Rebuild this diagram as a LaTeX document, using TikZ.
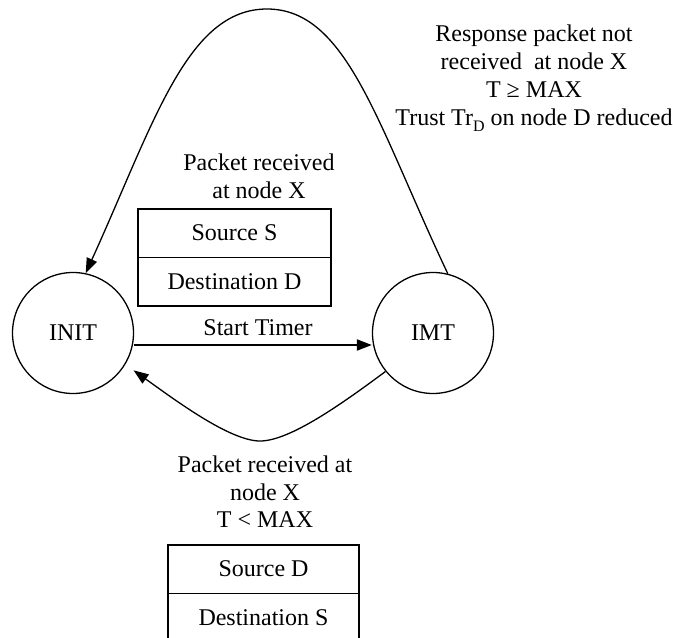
\documentclass[tikz,border=0pt]{standalone}
\usepackage{fontspec}
\setmainfont{Liberation Serif}
\usetikzlibrary{arrows.meta}
\begin{document}
\begin{tikzpicture}[x=1pt,y=-1pt,
  every node/.style={font=\fontsize{24}{27.6}\selectfont},
  state/.style={draw,circle,line width=1.3pt,minimum size=121pt,inner sep=0pt},
  field/.style={draw,line width=1.5pt,minimum width=193pt,minimum height=48.5pt,inner sep=0pt},
  lbl/.style={align=center,inner sep=0pt},
  tip/.style={-{Triangle[length=15pt,width=11pt]}},
  arc/.style={line width=1.3pt}]
\useasboundingbox (0,0) rectangle (673,638);
\clip (0,0) rectangle (673,638);
\node[state] (INIT) at (73,333) {INIT};
\node[state] (IMT) at (433,333) {IMT};
\node[field] (src1) at (234.5,233) {Source S};
\node[field] (dst1) at (234.5,281.5) {Destination D};
\node[field,minimum width=191pt] (src2) at (263.5,569) {Source D};
\node[field,minimum width=191pt] (dst2) at (263.5,617.5) {Destination S};
\node[lbl,font=\fontsize{24}{28.2}\selectfont] (lbltop) at (534,78) {Response packet not\\received\ \ at node X\\T ≥ MAX\\Trust Tr\raisebox{-0.25em}{\fontsize{16}{16}\selectfont D} on node D reduced};
\node[lbl] (lblin) at (259,176) {Packet received\\at node X};
\node[lbl] (lblst) at (258,328) {Start Timer};
\node[lbl] (lblbot) at (265,492) {Packet received at\\node X\\T < MAX};
\draw[tip,line width=2pt] ([yshift=-12pt]INIT.east) -- ([yshift=-12pt]IMT.west);
\draw[arc,tip] (IMT.76) .. controls (377,124) and (347,9) .. (267,9) .. controls (187,9) and (154,123) .. (INIT.78);
\draw[arc,tip,shorten >=10pt] (IMT.219) .. controls (343,403) and (290,441) .. (260,441) .. controls (230,441) and (175,400) .. (INIT.-31);
\end{tikzpicture}
\end{document}
